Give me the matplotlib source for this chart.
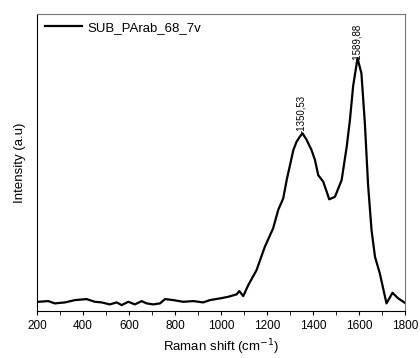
import numpy as np
import matplotlib
matplotlib.use("Agg")
import matplotlib.pyplot as plt
from matplotlib.ticker import MultipleLocator

plt.rcParams['font.family'] = ['Liberation Sans', 'DejaVu Sans']

# Raman spectrum (arbitrary intensity units)
shift = [200, 206, 249, 278, 322, 365, 416, 452, 481, 517, 547, 568, 597, 626,
         655, 677, 706, 735, 757, 793, 836, 880, 923, 952, 996, 1032, 1068,
         1080, 1097, 1119, 1155, 1191, 1227, 1249, 1271, 1286, 1315, 1329,
         1342, 1355, 1373, 1394, 1409, 1423, 1445, 1460, 1471, 1496, 1525,
         1547, 1561, 1575, 1594, 1611, 1626, 1640, 1655, 1670, 1691, 1720,
         1746, 1771, 1800]
intensity = [90, 93, 100, 77, 87, 110, 120, 93, 87, 67, 87, 60, 93, 67,
             100, 77, 67, 77, 120, 110, 93, 100, 87, 110, 127, 143, 167,
             200, 150, 260, 410, 643, 827, 1010, 1127, 1310, 1610, 1693,
             1740, 1777, 1710, 1610, 1510, 1360, 1293, 1193, 1117, 1143, 1310,
             1643, 1910, 2250, 2527, 2377, 1877, 1260, 810, 543, 377, 77,
             183, 127, 83]
peak_pos = [1350.53, 1589.88]
peak_lbl = ['1350,53', '1589,88']
series_name = 'SUB_PArab_68_7v'

fig = plt.figure(figsize=(4.2, 3.58), dpi=100)
ax = fig.add_axes([0.088, 0.131, 0.876, 0.830])

ax.plot(shift, intensity, color='black', lw=1.6, label=series_name)

for p, lbl in zip(peak_pos, peak_lbl):
    yv = np.interp(p, shift, intensity)
    ax.text(p, yv + 20, '-' + lbl, rotation=90, ha='center', va='bottom',
            fontsize=7)

ax.set_xlim(200, 1800)
ax.set_ylim(0, 2970)
ax.xaxis.set_major_locator(MultipleLocator(200))
ax.xaxis.set_minor_locator(MultipleLocator(100))
ax.tick_params(axis='x', which='both', direction='out', length=3, labelsize=8.5)
ax.set_yticks([])
for s in ['top', 'right']:
    ax.spines[s].set_color('#777777')

ax.set_xlabel('Raman shift (cm$^{-1}$)', fontsize=9.5)
ax.set_ylabel('Intensity (a.u)', fontsize=9.5, labelpad=8)
ax.legend(loc='upper left', frameon=False, fontsize=9.5, handlelength=2.8,
          borderaxespad=0.2, handletextpad=0.4)

fig.savefig('out.png', dpi=100)
